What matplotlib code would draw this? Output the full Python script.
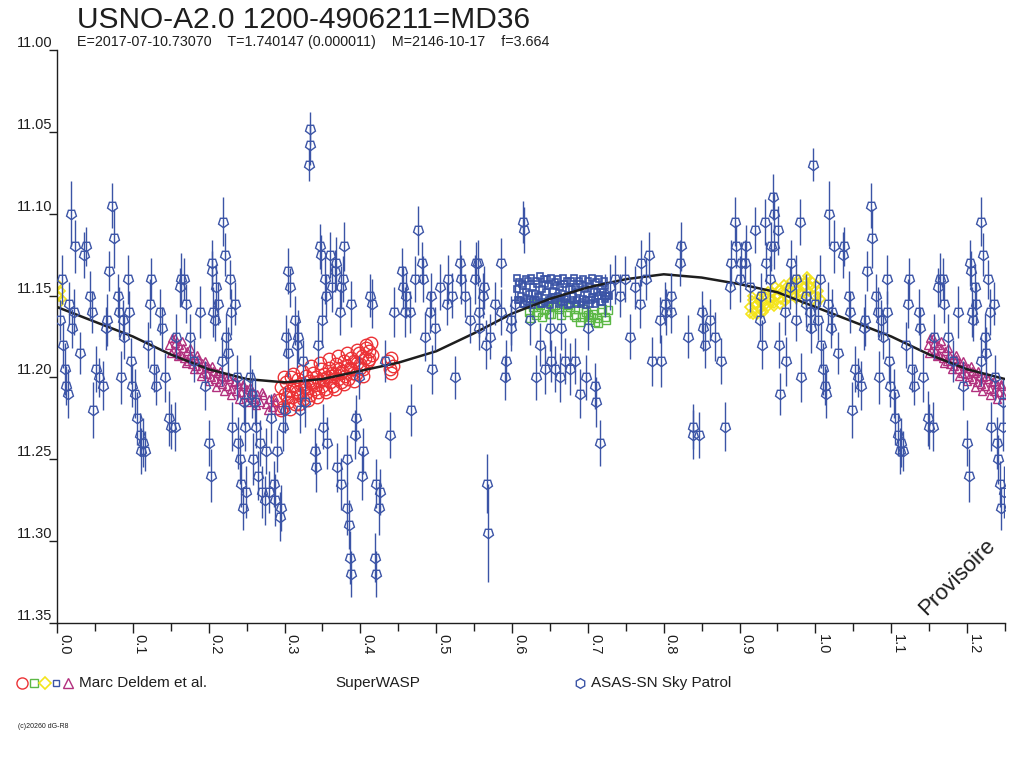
import matplotlib
matplotlib.use('Agg')
import matplotlib.pyplot as plt
import numpy as np
from matplotlib.ticker import MultipleLocator

plt.rcParams['font.family'] = ['Liberation Sans', 'DejaVu Sans']

# ---------------- data ----------------
title = "USNO-A2.0 1200-4906211=MD36"
subtitle = "E=2017-07-10.73070    T=1.740147 (0.000011)    M=2146-10-17    f=3.664"

curve_phase = [0.00, 0.05, 0.10, 0.15, 0.20, 0.25, 0.30, 0.35, 0.40, 0.45, 0.50, 0.55, 0.60,
               0.65, 0.70, 0.75, 0.80, 0.85, 0.90, 0.95, 1.00, 1.05, 1.10, 1.15, 1.20, 1.25]
curve_mag = [11.157, 11.166, 11.175, 11.186, 11.195, 11.201, 11.203, 11.201, 11.196, 11.191,
             11.184, 11.173, 11.161, 11.152, 11.145, 11.140, 11.137, 11.139, 11.143, 11.148,
             11.157, 11.166, 11.175, 11.186, 11.195, 11.201]

asas_phase = [
    0.004, 0.006, 0.008, 0.010, 0.012, 0.014, 0.016, 0.018, 0.020, 0.022, 0.024, 0.030, 0.036, 0.038, 0.044, 0.046, 0.048,
    0.052, 0.056, 0.060, 0.064, 0.066, 0.068, 0.073, 0.075, 0.080, 0.082, 0.084, 0.087, 0.089, 0.094, 0.095, 0.097, 0.099,
    0.103, 0.105, 0.109, 0.111, 0.113, 0.116, 0.120, 0.122, 0.124, 0.128, 0.130, 0.136, 0.138, 0.142, 0.148, 0.150,
    0.155, 0.157, 0.162, 0.164, 0.168, 0.170, 0.175, 0.181, 0.188, 0.195, 0.200, 0.203, 0.204, 0.205, 0.206, 0.208,
    0.210, 0.212, 0.218, 0.219, 0.221, 0.223, 0.225, 0.228, 0.230, 0.231, 0.235, 0.237, 0.239, 0.241, 0.243, 0.245, 0.247, 0.248, 0.249,
    0.255, 0.257, 0.258, 0.261, 0.263, 0.265, 0.268, 0.270, 0.274, 0.276, 0.280, 0.282, 0.286, 0.288, 0.290, 0.294, 0.296, 0.298,
    0.300, 0.302, 0.304, 0.305, 0.307, 0.314, 0.316, 0.318, 0.321, 0.324, 0.327, 0.333, 0.334, 0.332, 0.340, 0.341, 0.344, 0.347, 0.348, 0.350, 0.351,
    0.354, 0.355, 0.356, 0.360, 0.362, 0.367, 0.368, 0.369, 0.373, 0.374, 0.375, 0.377, 0.378, 0.382, 0.383, 0.386, 0.387, 0.385, 0.388, 0.393, 0.394, 0.398,
    0.402, 0.404, 0.413, 0.415, 0.419, 0.420, 0.421, 0.425, 0.426, 0.432, 0.439, 0.445,
    0.455, 0.456, 0.459, 0.460, 0.466, 0.467, 0.472, 0.476, 0.481, 0.482, 0.485, 0.492, 0.493, 0.494, 0.499,
    0.505, 0.514, 0.515, 0.521, 0.525, 0.532, 0.533, 0.538, 0.545, 0.551, 0.552,
    0.555, 0.556, 0.557, 0.562, 0.563, 0.567, 0.568, 0.566, 0.571, 0.578, 0.585, 0.586, 0.591, 0.592, 0.598, 0.599,
    0.604, 0.615, 0.616, 0.624, 0.631, 0.637, 0.644, 0.650, 0.651,
    0.657, 0.663, 0.664, 0.670, 0.677, 0.683, 0.690, 0.697, 0.700,
    0.710, 0.711, 0.716, 0.723, 0.729, 0.736, 0.743, 0.749,
    0.756, 0.762, 0.769, 0.770, 0.776, 0.780, 0.785, 0.795, 0.796, 0.802, 0.803,
    0.809, 0.810, 0.822, 0.823, 0.832, 0.838, 0.839, 0.846, 0.851, 0.852,
    0.855, 0.861, 0.868, 0.875, 0.881, 0.888, 0.889, 0.894, 0.895, 0.901, 0.902,
    0.907, 0.908, 0.914, 0.921, 0.927, 0.928, 0.929, 0.934, 0.935, 0.940, 0.941, 0.944, 0.945, 0.946, 0.951, 0.952, 0.953,
    0.960, 0.961, 0.967, 0.968, 0.974, 0.975, 0.980, 0.981, 0.987, 0.988, 0.993, 0.994, 0.997, 0.999,
]
asas_mag = [
    11.165, 11.140, 11.180, 11.195, 11.205, 11.210, 11.155, 11.100, 11.170, 11.160, 11.120, 11.185, 11.125, 11.120, 11.150, 11.160, 11.220,
    11.195, 11.200, 11.205, 11.170, 11.165, 11.135, 11.095, 11.115, 11.150, 11.160, 11.200, 11.165, 11.175, 11.140, 11.160, 11.190, 11.205,
    11.210, 11.225, 11.235, 11.245, 11.240, 11.245, 11.180, 11.155, 11.140, 11.195, 11.205, 11.160, 11.170, 11.200, 11.225, 11.230,
    11.230, 11.175, 11.145, 11.140, 11.140, 11.155, 11.175, 11.190, 11.160, 11.205, 11.240, 11.260, 11.130, 11.135, 11.160, 11.165,
    11.145, 11.155, 11.190, 11.105, 11.125, 11.175, 11.185, 11.140, 11.160, 11.230, 11.155, 11.200, 11.240, 11.250, 11.265, 11.280, 11.215, 11.230, 11.270,
    11.200, 11.210, 11.250, 11.215, 11.230, 11.260, 11.240, 11.270, 11.275, 11.245, 11.270, 11.225, 11.265, 11.275, 11.245, 11.285, 11.280, 11.230,
    11.220, 11.175, 11.185, 11.135, 11.145, 11.165, 11.180, 11.175, 11.220, 11.190, 11.215, 11.048, 11.058, 11.070, 11.245, 11.255, 11.180, 11.120, 11.125, 11.165, 11.230,
    11.140, 11.150, 11.240, 11.125, 11.145, 11.135, 11.130, 11.255, 11.160, 11.145, 11.265, 11.140, 11.120, 11.250, 11.280, 11.310, 11.320, 11.290, 11.155, 11.235, 11.225, 11.200,
    11.260, 11.245, 11.150, 11.155, 11.310, 11.320, 11.265, 11.280, 11.270, 11.190, 11.235, 11.160,
    11.135, 11.145, 11.160, 11.150, 11.160, 11.220, 11.140, 11.110, 11.130, 11.140, 11.175, 11.160, 11.150, 11.195, 11.170,
    11.145, 11.155, 11.140, 11.150, 11.200, 11.130, 11.140, 11.150, 11.165, 11.140, 11.130,
    11.130, 11.160, 11.170, 11.150, 11.145, 11.265, 11.295, 11.180, 11.175, 11.155, 11.160, 11.130, 11.200, 11.190, 11.170, 11.165,
    11.155, 11.105, 11.110, 11.165, 11.200, 11.180, 11.195, 11.170, 11.190,
    11.195, 11.200, 11.170, 11.190, 11.195, 11.190, 11.210, 11.200, 11.170,
    11.205, 11.215, 11.240, 11.150, 11.145, 11.140, 11.150, 11.140,
    11.175, 11.145, 11.155, 11.130, 11.140, 11.125, 11.190, 11.165, 11.190, 11.155, 11.160,
    11.150, 11.160, 11.130, 11.120, 11.175, 11.230, 11.235, 11.235, 11.160, 11.170,
    11.180, 11.165, 11.175, 11.190, 11.230, 11.145, 11.130, 11.105, 11.120, 11.140, 11.130,
    11.130, 11.120, 11.145, 11.110, 11.165, 11.150, 11.180, 11.105, 11.130, 11.140, 11.120, 11.090, 11.100, 11.120, 11.110, 11.180, 11.210,
    11.160, 11.190, 11.145, 11.130, 11.140, 11.165, 11.105, 11.200, 11.150, 11.155, 11.160, 11.170, 11.070, 11.155,
]
asas_err = [
    .012, .015, .014, .016, .012, .015, .013, .020, .012, .014, .016, .013, .014, .012, .015, .013, .017,
    .014, .012, .015, .013, .016, .012, .014, .018, .013, .015, .016, .012, .014, .015, .013, .014, .013,
    .015, .016, .013, .014, .015, .012, .014, .015, .013, .014, .012, .014, .013, .015, .017, .014,
    .015, .014, .012, .016, .013, .012, .014, .013, .016, .015, .014, .016, .014, .012, .015, .013,
    .014, .013, .015, .015, .013, .014, .016, .012, .014, .015, .013, .014, .016, .015, .014, .013, .014, .015, .016,
    .014, .015, .016, .014, .013, .015, .014, .016, .015, .014, .013, .015, .014, .016, .013, .015, .014, .015,
    .014, .013, .015, .014, .012, .015, .014, .016, .014, .013, .015, .010, .012, .010, .014, .015, .013, .014, .012, .015, .014,
    .015, .013, .016, .014, .015, .013, .016, .015, .014, .013, .016, .014, .015, .015, .016, .016, .014, .015, .014, .015, .014, .013,
    .015, .014, .013, .015, .015, .014, .015, .016, .014, .013, .014, .015,
    .014, .013, .015, .014, .013, .016, .014, .015, .013, .014, .015, .013, .014, .015, .013,
    .014, .013, .015, .014, .013, .014, .015, .013, .014, .015, .013,
    .014, .015, .013, .014, .013, .018, .030, .015, .014, .013, .014, .015, .014, .013, .014, .015,
    .014, .013, .014, .015, .014, .013, .015, .014, .013,
    .014, .015, .013, .014, .016, .014, .015, .014, .013,
    .014, .015, .014, .013, .014, .015, .013, .014,
    .014, .013, .015, .014, .013, .014, .015, .014, .016, .013, .014,
    .014, .013, .014, .015, .013, .014, .015, .014, .013, .014,
    .014, .013, .015, .014, .015, .013, .014, .015, .013, .014, .013,
    .014, .013, .015, .014, .013, .014, .015, .014, .013, .014, .015, .014, .013, .014, .015, .014, .013,
    .014, .015, .013, .014, .015, .013, .014, .015, .013, .014, .013, .015, .010, .014,
]

# Marc Deldem et al. (5 series)
purple_phase = [0.148, 0.151, 0.153, 0.156, 0.158, 0.161, 0.163, 0.166, 0.168, 0.171,
                0.173, 0.176, 0.178, 0.181, 0.183, 0.186, 0.188, 0.191, 0.193, 0.196,
                0.198, 0.201, 0.203, 0.206, 0.208, 0.211, 0.213, 0.216, 0.218, 0.221,
                0.224, 0.227, 0.230, 0.233, 0.236, 0.239, 0.242, 0.245, 0.248, 0.251,
                0.254, 0.257, 0.260, 0.264, 0.268, 0.272, 0.276, 0.280, 0.284, 0.288, 0.291,
                0.150, 0.155, 0.160, 0.165, 0.170, 0.175, 0.180, 0.185, 0.190, 0.195,
                0.200, 0.205, 0.210, 0.215, 0.220, 0.225, 0.230, 0.235, 0.240, 0.245,
                0.250, 0.255, 0.262, 0.270, 0.278, 0.286]
purple_mag = [11.180, 11.176, 11.183, 11.179, 11.184, 11.180, 11.186, 11.182, 11.188, 11.184,
              11.190, 11.186, 11.192, 11.188, 11.193, 11.189, 11.195, 11.191, 11.197, 11.193,
              11.198, 11.194, 11.200, 11.196, 11.201, 11.197, 11.203, 11.199, 11.204, 11.200,
              11.205, 11.201, 11.207, 11.203, 11.208, 11.204, 11.209, 11.205, 11.211, 11.207,
              11.212, 11.208, 11.213, 11.210, 11.215, 11.211, 11.216, 11.213, 11.218, 11.215, 11.220,
              11.185, 11.176, 11.187, 11.178, 11.191, 11.182, 11.195, 11.186, 11.199, 11.190,
              11.202, 11.193, 11.206, 11.196, 11.208, 11.199, 11.211, 11.202, 11.213, 11.204,
              11.215, 11.206, 11.217, 11.209, 11.220, 11.212]

red_phase = [0.293, 0.296, 0.298, 0.300, 0.302, 0.304, 0.306, 0.308, 0.310, 0.312,
             0.314, 0.316, 0.318, 0.320, 0.322, 0.324, 0.326, 0.328, 0.330, 0.332,
             0.334, 0.336, 0.338, 0.340, 0.342, 0.344, 0.346, 0.348, 0.350, 0.352,
             0.354, 0.356, 0.358, 0.360, 0.362, 0.364, 0.366, 0.368, 0.370, 0.372,
             0.374, 0.376, 0.378, 0.380, 0.382, 0.384, 0.386, 0.388, 0.390, 0.392,
             0.394, 0.396, 0.398, 0.400, 0.402, 0.404, 0.406, 0.408, 0.410, 0.412,
             0.414, 0.416, 0.437, 0.439, 0.441, 0.443, 0.440,
             0.295, 0.299, 0.303, 0.307, 0.311, 0.315, 0.319, 0.323, 0.327, 0.331,
             0.335, 0.339, 0.343, 0.347, 0.351, 0.355, 0.359, 0.363, 0.367, 0.371,
             0.375, 0.379, 0.383, 0.387, 0.391, 0.395, 0.399, 0.403, 0.407, 0.411]
red_mag = [11.214, 11.206, 11.218, 11.210, 11.203, 11.215, 11.208, 11.200, 11.212, 11.205,
           11.216, 11.209, 11.201, 11.211, 11.204, 11.213, 11.206, 11.199, 11.209, 11.202,
           11.211, 11.204, 11.197, 11.207, 11.200, 11.209, 11.202, 11.195, 11.205, 11.198,
           11.207, 11.200, 11.194, 11.203, 11.197, 11.205, 11.198, 11.192, 11.201, 11.195,
           11.203, 11.196, 11.190, 11.199, 11.193, 11.201, 11.194, 11.188, 11.197, 11.190,
           11.198, 11.191, 11.185, 11.194, 11.187, 11.195, 11.188, 11.182, 11.190, 11.184,
           11.179, 11.186, 11.190, 11.195, 11.188, 11.193, 11.197,
           11.220, 11.200, 11.212, 11.219, 11.198, 11.207, 11.216, 11.196, 11.206, 11.214,
           11.193, 11.203, 11.212, 11.191, 11.201, 11.209, 11.189, 11.199, 11.207, 11.187,
           11.197, 11.204, 11.185, 11.195, 11.202, 11.183, 11.192, 11.199, 11.180, 11.189]

green_phase = [0.622, 0.627, 0.632, 0.637, 0.642, 0.647, 0.652, 0.657, 0.662, 0.667,
               0.672, 0.677, 0.682, 0.687, 0.692, 0.697, 0.702, 0.707, 0.712, 0.717,
               0.722, 0.726, 0.630, 0.645, 0.700, 0.710,
               0.624, 0.634, 0.639, 0.649, 0.654, 0.664, 0.674, 0.684, 0.689, 0.694,
               0.704, 0.714, 0.719, 0.724]
green_mag = [11.160, 11.157, 11.162, 11.156, 11.159, 11.154, 11.161, 11.156, 11.158, 11.155,
             11.160, 11.157, 11.162, 11.158, 11.163, 11.160, 11.165, 11.161, 11.164, 11.160,
             11.163, 11.159, 11.155, 11.158, 11.162, 11.166,
             11.164, 11.160, 11.163, 11.161, 11.157, 11.162, 11.156, 11.163, 11.166, 11.158,
             11.163, 11.167, 11.158, 11.165]

yellow_phase = [0.913, 0.916, 0.919, 0.922, 0.925, 0.928, 0.931, 0.934, 0.937, 0.940,
                0.943, 0.946, 0.949, 0.952, 0.955, 0.958, 0.961, 0.964, 0.967, 0.970,
                0.973, 0.976, 0.979, 0.982, 0.985, 0.988, 0.991, 0.994, 0.997, 0.001,
                0.003, 0.005, 0.007, 0.918, 0.930, 0.945, 0.960, 0.975, 0.990,
                0.914, 0.917, 0.920, 0.923, 0.926, 0.929, 0.932, 0.935, 0.938, 0.941,
                0.944, 0.947, 0.950, 0.953, 0.956, 0.959, 0.962, 0.965, 0.968, 0.971,
                0.974, 0.977, 0.980, 0.983, 0.986, 0.989, 0.992, 0.995, 0.998, 0.002]
yellow_mag = [11.157, 11.153, 11.160, 11.155, 11.151, 11.158, 11.154, 11.150, 11.157, 11.152,
              11.148, 11.155, 11.150, 11.146, 11.153, 11.149, 11.145, 11.152, 11.147, 11.143,
              11.150, 11.146, 11.142, 11.149, 11.145, 11.141, 11.148, 11.144, 11.146, 11.143,
              11.150, 11.147, 11.152, 11.162, 11.160, 11.157, 11.154, 11.152, 11.139,
              11.161, 11.150, 11.156, 11.162, 11.154, 11.149, 11.160, 11.156, 11.147, 11.155,
              11.152, 11.144, 11.151, 11.156, 11.147, 11.143, 11.152, 11.146, 11.141, 11.150,
              11.146, 11.140, 11.148, 11.153, 11.144, 11.138, 11.147, 11.141, 11.150, 11.155]

blue_phase = [0.606, 0.609, 0.612, 0.615, 0.618, 0.621, 0.624, 0.627, 0.630, 0.633,
              0.636, 0.639, 0.642, 0.645, 0.648, 0.651, 0.654, 0.657, 0.660, 0.663,
              0.666, 0.669, 0.672, 0.675, 0.678, 0.681, 0.684, 0.687, 0.690, 0.693,
              0.696, 0.699, 0.702, 0.705, 0.708, 0.711, 0.714, 0.717, 0.720, 0.723,
              0.726, 0.608, 0.614, 0.620, 0.626, 0.632, 0.638, 0.644, 0.650, 0.656,
              0.662, 0.668, 0.674, 0.680, 0.686, 0.692, 0.698, 0.704, 0.710, 0.716,
              0.722, 0.728,
              0.607, 0.610, 0.613, 0.616, 0.619, 0.622, 0.625, 0.628, 0.631, 0.634,
              0.637, 0.640, 0.643, 0.646, 0.649, 0.652, 0.655, 0.658, 0.661, 0.664,
              0.667, 0.670, 0.673, 0.676, 0.679, 0.682, 0.685, 0.688, 0.691, 0.694,
              0.697, 0.700, 0.703, 0.706, 0.709, 0.712, 0.715, 0.718, 0.721, 0.724]
blue_mag = [11.146, 11.142, 11.150, 11.144, 11.148, 11.141, 11.152, 11.145, 11.149, 11.143,
            11.151, 11.146, 11.140, 11.148, 11.144, 11.152, 11.147, 11.142, 11.150, 11.145,
            11.149, 11.143, 11.151, 11.146, 11.141, 11.150, 11.145, 11.148, 11.143, 11.152,
            11.146, 11.149, 11.144, 11.151, 11.147, 11.142, 11.150, 11.146, 11.148, 11.144,
            11.150, 11.153, 11.155, 11.154, 11.156, 11.153, 11.155, 11.154, 11.156, 11.153,
            11.155, 11.154, 11.156, 11.153, 11.155, 11.154, 11.156, 11.153, 11.155, 11.154,
            11.152, 11.150,
            11.139, 11.153, 11.143, 11.155, 11.140, 11.149, 11.139, 11.154, 11.141, 11.150,
            11.138, 11.155, 11.143, 11.140, 11.153, 11.139, 11.151, 11.144, 11.140, 11.154,
            11.139, 11.152, 11.141, 11.155, 11.146, 11.139, 11.153, 11.141, 11.155, 11.140,
            11.153, 11.141, 11.155, 11.139, 11.152, 11.148, 11.140, 11.154, 11.141, 11.150]

x_major = [0.0, 0.1, 0.2, 0.3, 0.4, 0.5, 0.6, 0.7, 0.8, 0.9, 1.0, 1.1, 1.2]
y_major = [11.00, 11.05, 11.10, 11.15, 11.20, 11.25, 11.30, 11.35]

# ---------------- styling ----------------
BLUE = '#3b54a6'
RED = '#ec3236'
GREEN = '#5cb846'
YELLOW = '#f4e41c'
PURPLE = '#b2307e'
INK = '#1e1e1e'
WRAP = 0.25
ASAS_MARKER = (5, 0, 180)   # pentagon with flat top


def wrap(ph, *vals):
    """Repeat points with phase < WRAP at phase + 1 (phase-folded display)."""
    n = min([len(ph)] + [len(v) for v in vals])
    ph = np.asarray(ph[:n], float)
    vals = [np.asarray(v[:n], float) for v in vals]
    m = ph < WRAP
    out = [np.concatenate([ph, ph[m] + 1.0])]
    for v in vals:
        out.append(np.concatenate([v, v[m]]))
    return out


W, H = 1024, 768
fig = plt.figure(figsize=(W / 100, H / 100), dpi=100)
ax = fig.add_axes([57 / W, 1 - 623 / H, 948 / W, 573 / H])

# model curve
ax.plot(curve_phase, curve_mag, color=INK, lw=1.8, zorder=3, solid_capstyle='round')

# Marc Deldem et al.
ph, mg = wrap(red_phase, red_mag)
ax.plot(ph, mg, 'o', mfc='none', mec=RED, mew=1.0, ms=9, zorder=2)
ph, mg = wrap(green_phase, green_mag)
ax.plot(ph, mg, 's', mfc='none', mec=GREEN, mew=1.0, ms=5.5, zorder=2)
ph, mg = wrap(yellow_phase, yellow_mag)
ax.plot(ph, mg, 'D', mfc='none', mec=YELLOW, mew=1.2, ms=4.5, zorder=2)
ph, mg = wrap(blue_phase, blue_mag)
ax.plot(ph, mg, 's', mfc='none', mec=BLUE, mew=1.2, ms=4.5, zorder=2)
ph, mg = wrap(purple_phase, purple_mag)
ax.plot(ph, mg, '^', mfc='none', mec=PURPLE, mew=1.0, ms=6, zorder=2)

# ASAS-SN Sky Patrol
ph, mg, er = wrap(asas_phase, asas_mag, asas_err)
ax.errorbar(ph, mg, yerr=er, fmt='none', ecolor=BLUE, elinewidth=1.0, capsize=0, zorder=4)
ax.plot(ph, mg, marker=ASAS_MARKER, ls='none', mfc='none', mec=BLUE, mew=1.0, ms=7.5, zorder=5)

# axes
ax.set_xlim(0, 1.25)
ax.set_ylim(11.35, 11.00)
for s in ('top', 'right'):
    ax.spines[s].set_visible(False)
for s in ('left', 'bottom'):
    ax.spines[s].set_color(INK)
    ax.spines[s].set_linewidth(1.0)

ax.set_xticks(x_major)
ax.set_xticklabels([f'{v:.1f}' for v in x_major], rotation=-90, ha='left', va='top')
ax.xaxis.set_minor_locator(MultipleLocator(0.05))
ax.tick_params(axis='x', which='major', length=7.2, width=1, pad=0.8, labelsize=10.5,
               colors=INK, direction='out')
ax.tick_params(axis='x', which='minor', length=5.8, width=1, colors=INK, direction='out')

ax.set_yticks(y_major)
ax.set_yticklabels([f'{v:.2f}' for v in y_major])
for t in ax.get_yticklabels():
    t.set_verticalalignment('bottom')
ax.tick_params(axis='y', which='major', length=5.8, width=1, pad=-2.2, labelsize=10.5,
               colors=INK, direction='out')

# texts
fig.text(77 / W, 1 - 28 / H, title, fontsize=21.5, color=INK, ha='left', va='baseline')
fig.text(77 / W, 1 - 46 / H, subtitle, fontsize=10.3, color=INK, ha='left', va='baseline')
fig.text(957 / W, 1 - 577 / H, 'Provisoire', fontsize=16, color=INK, rotation=45,
         ha='center', va='center')
fig.text(18 / W, 1 - 726 / H, '(c)20260 dG-R8', fontsize=5, color=INK, ha='left', va='center')

# legend row (figure pixel coordinates)
lg = fig.add_axes([0, 0, 1, 1], zorder=-1)
lg.set_xlim(0, W)
lg.set_ylim(H, 0)
lg.axis('off')
ly = 683
lg.plot([22], [ly], 'o', mfc='none', mec=RED, mew=1.0, ms=8)
lg.plot([34], [ly], 's', mfc='none', mec=GREEN, mew=1.0, ms=5.5)
lg.plot([45], [ly], 'D', mfc='none', mec=YELLOW, mew=1.2, ms=6)
lg.plot([56], [ly], 's', mfc='none', mec=BLUE, mew=1.0, ms=4.5)
lg.plot([68], [ly], '^', mfc='none', mec=PURPLE, mew=1.0, ms=6.5)
lg.text(79, ly, 'Marc Deldem et al.', fontsize=11, color=INK, ha='left', va='center')
lg.text(335, ly, 'SuperWASP', fontsize=11, color=INK, ha='left', va='center')
lg.plot([580], [ly], marker=(6, 0, 0), ls='none', mfc='none', mec=BLUE, mew=1.0, ms=7)
lg.text(591, ly, 'ASAS-SN Sky Patrol', fontsize=11, color=INK, ha='left', va='center')

fig.savefig('out.png', dpi=100)
